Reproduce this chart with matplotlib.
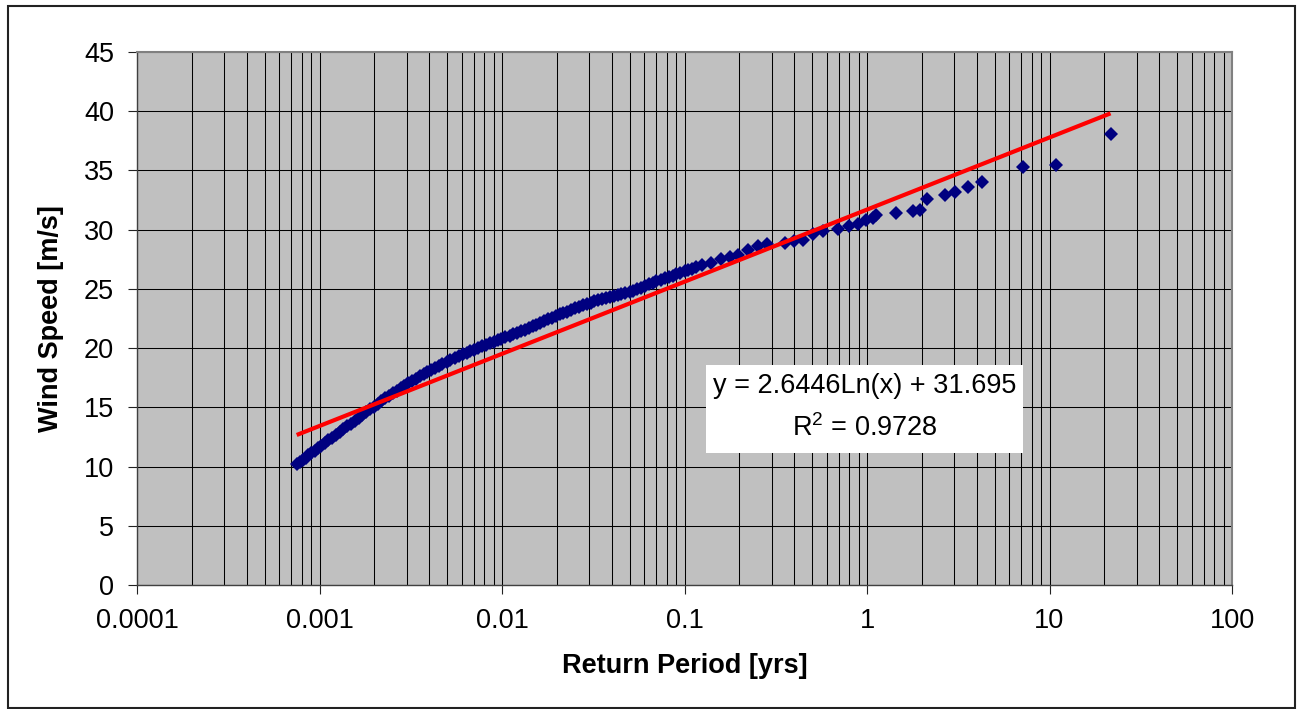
import matplotlib
matplotlib.use("Agg")
import matplotlib.pyplot as plt
import numpy as np
from matplotlib.patches import Rectangle
from matplotlib.ticker import FixedLocator, FixedFormatter, LogLocator, NullFormatter

plt.rcParams['font.family'] = ['Liberation Sans', 'DejaVu Sans']
plt.rcParams['mathtext.fontset'] = 'custom'
plt.rcParams['mathtext.rm'] = 'Liberation Sans'
plt.rcParams['mathtext.it'] = 'Liberation Sans:italic'

# ---- data ----
return_period = [
    0.00075, 0.00078, 0.00081, 0.00084, 0.00087, 0.0009, 0.00094, 0.00098, 0.00102, 0.00107,
    0.00112, 0.00117, 0.00123, 0.00129, 0.00135, 0.00142, 0.00149, 0.00156, 0.00164, 0.00172,
    0.0018, 0.00189, 0.00198, 0.00208, 0.00218, 0.00229, 0.0024, 0.00252, 0.00265, 0.00278,
    0.00292, 0.00306, 0.00321, 0.00337, 0.00354, 0.00372, 0.0039, 0.0041, 0.0043, 0.0045,
    0.0047, 0.005, 0.0052, 0.0055, 0.0058, 0.0061, 0.0064, 0.0067, 0.007, 0.0074,
    0.0078, 0.0082, 0.0086, 0.009, 0.0095, 0.0099, 0.0104, 0.011, 0.0115, 0.0121,
    0.0127, 0.0133, 0.014, 0.0147, 0.0154, 0.0162, 0.017, 0.0179, 0.0188, 0.0197,
    0.0207, 0.0217, 0.0228, 0.024, 0.0252, 0.0264, 0.0277, 0.0291, 0.0306, 0.0321,
    0.0337, 0.0354, 0.0372, 0.039, 0.041, 0.043, 0.045, 0.0475, 0.05, 0.052,
    0.055, 0.058, 0.061, 0.064, 0.067, 0.07, 0.074, 0.078, 0.082, 0.086,
    0.09, 0.095, 0.1, 0.105, 0.11, 0.116,
    0.124, 0.14, 0.159, 0.178, 0.197, 0.224, 0.253, 0.282, 0.355, 0.40,
    0.447, 0.507, 0.575, 0.69, 0.80, 0.89, 0.99, 1.08, 1.12, 1.44,
    1.78, 1.95, 2.14, 2.66, 3.04, 3.56, 4.25, 7.2, 10.9, 21.6,
]
wind_speed = [
    10.2, 10.4, 10.58, 10.76, 10.95, 11.11, 11.33, 11.54, 11.74, 11.97,
    12.2, 12.42, 12.68, 12.92, 13.14, 13.39, 13.63, 13.86, 14.12, 14.36,
    14.58, 14.82, 15.06, 15.3, 15.53, 15.77, 15.98, 16.2, 16.42, 16.63,
    16.84, 17.04, 17.23, 17.43, 17.62, 17.81, 18.0, 18.17, 18.33, 18.49,
    18.64, 18.84, 18.98, 19.16, 19.33, 19.48, 19.62, 19.75, 19.87, 20.02,
    20.16, 20.29, 20.41, 20.53, 20.67, 20.78, 20.91, 21.06, 21.18, 21.31,
    21.44, 21.56, 21.71, 21.85, 21.99, 22.14, 22.28, 22.43, 22.57, 22.71,
    22.84, 22.96, 23.09, 23.23, 23.35, 23.48, 23.6, 23.73, 23.85, 23.94,
    24.03, 24.12, 24.21, 24.3, 24.39, 24.47, 24.56, 24.67, 24.76, 24.84,
    24.96, 25.11, 25.25, 25.38, 25.51, 25.63, 25.76, 25.89, 26.01, 26.12,
    26.23, 26.36, 26.48, 26.59, 26.7, 26.82,
    27.0, 27.2, 27.5, 27.7, 27.9, 28.3, 28.6, 28.8, 28.9, 29.06,
    29.15, 29.6, 29.85, 30.05, 30.3, 30.5, 30.8, 31.0, 31.25, 31.4,
    31.6, 31.7, 32.6, 32.9, 33.2, 33.6, 34.0, 35.3, 35.5, 38.1,
]
trend_slope = 2.6446
trend_intercept = 31.695
r_squared = 0.9728
x_ticks = [0.0001, 0.001, 0.01, 0.1, 1, 10, 100]
x_tick_labels = ["0.0001", "0.001", "0.01", "0.1", "1", "10", "100"]
y_ticks = [0, 5, 10, 15, 20, 25, 30, 35, 40, 45]

W, H = 1298, 709
fig = plt.figure(figsize=(W / 100, H / 100), dpi=100)
ax = fig.add_axes([137 / W, 1 - 585 / H, (1232 - 137) / W, (585 - 52) / H])
ax.set_facecolor('#C0C0C0')

ax.set_xscale('log')
ax.set_xlim(0.0001, 100)
ax.set_ylim(0, 45)

# grid
ax.xaxis.set_major_locator(FixedLocator(x_ticks))
ax.xaxis.set_major_formatter(FixedFormatter(x_tick_labels))
ax.xaxis.set_minor_locator(LogLocator(base=10, subs=np.arange(2, 10)))
ax.xaxis.set_minor_formatter(NullFormatter())
ax.set_yticks(y_ticks)
ax.grid(True, which='major', axis='both', color='black', linewidth=0.75)
ax.grid(True, which='minor', axis='x', color='black', linewidth=0.75)
ax.set_axisbelow(True)

ax.tick_params(axis='x', which='minor', length=0)
ax.tick_params(axis='x', which='major', direction='out', length=6.5, width=0.8,
               color='#222222', labelsize=19.5, pad=10)
ax.tick_params(axis='y', which='major', direction='out', length=6.5, width=0.8,
               color='#222222', labelsize=19.5, pad=10)

for side in ['top', 'right']:
    ax.spines[side].set_color('#808080')
    ax.spines[side].set_linewidth(1.5)
for side in ['left', 'bottom']:
    ax.spines[side].set_color('#404040')
    ax.spines[side].set_linewidth(1.0)

# data
xs = np.array(return_period)
ax.plot(xs, wind_speed, linestyle='none', marker='D', markersize=7.2,
        markeredgewidth=0, color='#000080', zorder=3)

# logarithmic trend line over data range
xt = np.geomspace(xs.min(), xs.max(), 300)
ax.plot(xt, trend_slope * np.log(xt) + trend_intercept, color='#FF0000',
        linewidth=3.0, zorder=4, solid_capstyle='butt')

ax.set_xlabel('Return Period [yrs]', fontsize=19.5, fontweight='bold', labelpad=14)
ax.set_ylabel('Wind Speed [m/s]', fontsize=19.5, fontweight='bold', labelpad=14)

# equation box
bx0, bx1, by0, by1 = 706, 1023, 365, 453
fig.patches.append(Rectangle((bx0 / W, 1 - by1 / H), (bx1 - bx0) / W, (by1 - by0) / H,
                             transform=fig.transFigure, facecolor='white',
                             edgecolor='none', zorder=5))
cx = (bx0 + bx1) / 2 / W
fig.text(cx, 1 - 386 / H, f"y = {trend_slope:.4f}Ln(x) + {trend_intercept:.3f}",
         ha='center', va='center', fontsize=19.5, zorder=6)
fig.text(cx, 1 - 428 / H, r"R$^2$" + f" = {r_squared:.4f}",
         ha='center', va='center', fontsize=19.5, zorder=6)

# chart border
fig.patches.append(Rectangle((8 / W, 1 / H), (1295 - 8) / W, (708 - 6) / H,
                             transform=fig.transFigure, facecolor='none',
                             edgecolor='#222222', linewidth=1.5, zorder=10))

fig.savefig('out.png', dpi=100)
